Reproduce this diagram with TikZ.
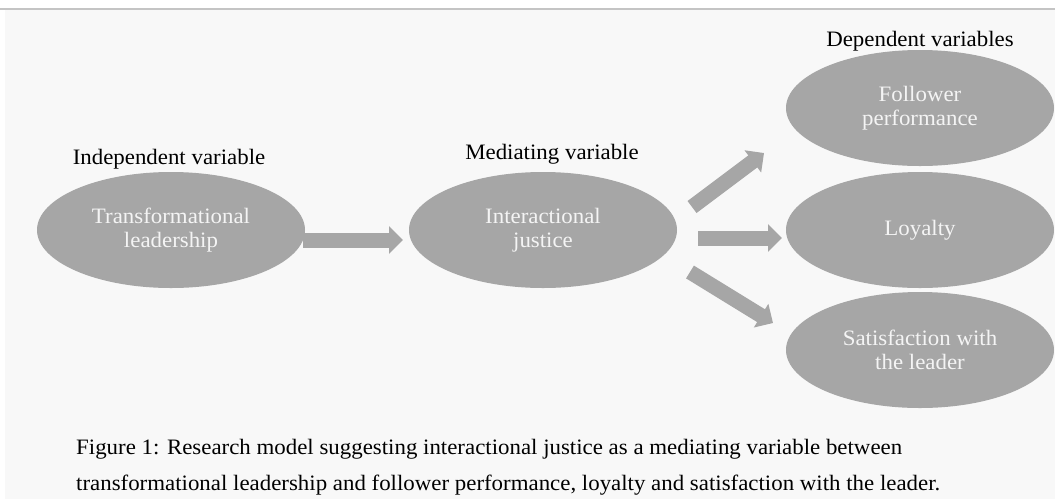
\documentclass[tikz,border=0pt]{standalone}
\usepackage{fontspec}
\setmainfont{Liberation Serif}[FakeStretch=1.04]
\usetikzlibrary{shapes.geometric,arrows.meta}
\definecolor{ellgray}{HTML}{A6A6A6}
\definecolor{bggray}{HTML}{F8F8F8}
\definecolor{txtlight}{HTML}{F4F4F4}
\definecolor{rulegray}{HTML}{C4C4C4}
\begin{document}
\begin{tikzpicture}[x=1pt,y=-1pt,
  ell/.style={ellipse, fill=ellgray, draw=none, minimum width=268pt, minimum height=116pt, inner sep=0pt, text=txtlight, font=\fontsize{22}{24.5}\selectfont, align=center},
  lbl/.style={font=\fontsize{22}{24.5}\selectfont, text=black, inner sep=0pt, anchor=base},
  captext/.style={font=\fontsize{22}{24.5}\selectfont, text=black, inner sep=0pt, anchor=base west},
  blockarrow/.style={ellgray, line width=15pt, -{Triangle[width=27pt,length=14pt]}}
]
\useasboundingbox (0,0) rectangle (1055,499);
\fill[white] (0,0) rectangle (1055,499);
\fill[bggray] (5,10) rectangle (1055,499);
\draw[rulegray, line width=1.2pt] (0,9) -- (1055,9);

% ellipses
\node[ell] (tl) at (171,230) {Transformational\\leadership};
\node[ell] (ij) at (543,230) {Interactional\\justice};
\node[ell] (fp) at (920,108) {Follower\\performance};
\node[ell] (lo) at (920,230) {Loyalty};
\node[ell] (sl) at (920,350) {Satisfaction with\\the leader};

% labels
\node[lbl] (lind) at (169,164) {Independent variable};
\node[lbl] (lmed) at (552,159) {Mediating variable};
\node[lbl] (ldep) at (920,46) {Dependent variables};

% arrow end points
\coordinate (a1s) at (303,240);
\coordinate (a1e) at (403,240);
\coordinate (a2s) at (692,207);
\coordinate (a2e) at (764,153);
\coordinate (a3s) at (698,238);
\coordinate (a3e) at (782,238);
\coordinate (a4s) at (690,272);
\coordinate (a4e) at (773,323);

\draw[blockarrow] (a1s) -- (a1e);
\draw[blockarrow] (a2s) -- (a2e);
\draw[blockarrow] (a3s) -- (a3e);
\draw[blockarrow] (a4s) -- (a4e);

% caption
\node[captext] (c1) at (76,454) {Figure 1: Research model suggesting interactional justice as a mediating variable between};
\node[captext] (c2) at (76,490) {transformational leadership and follower performance, loyalty and satisfaction with the leader.};
\end{tikzpicture}
\end{document}
